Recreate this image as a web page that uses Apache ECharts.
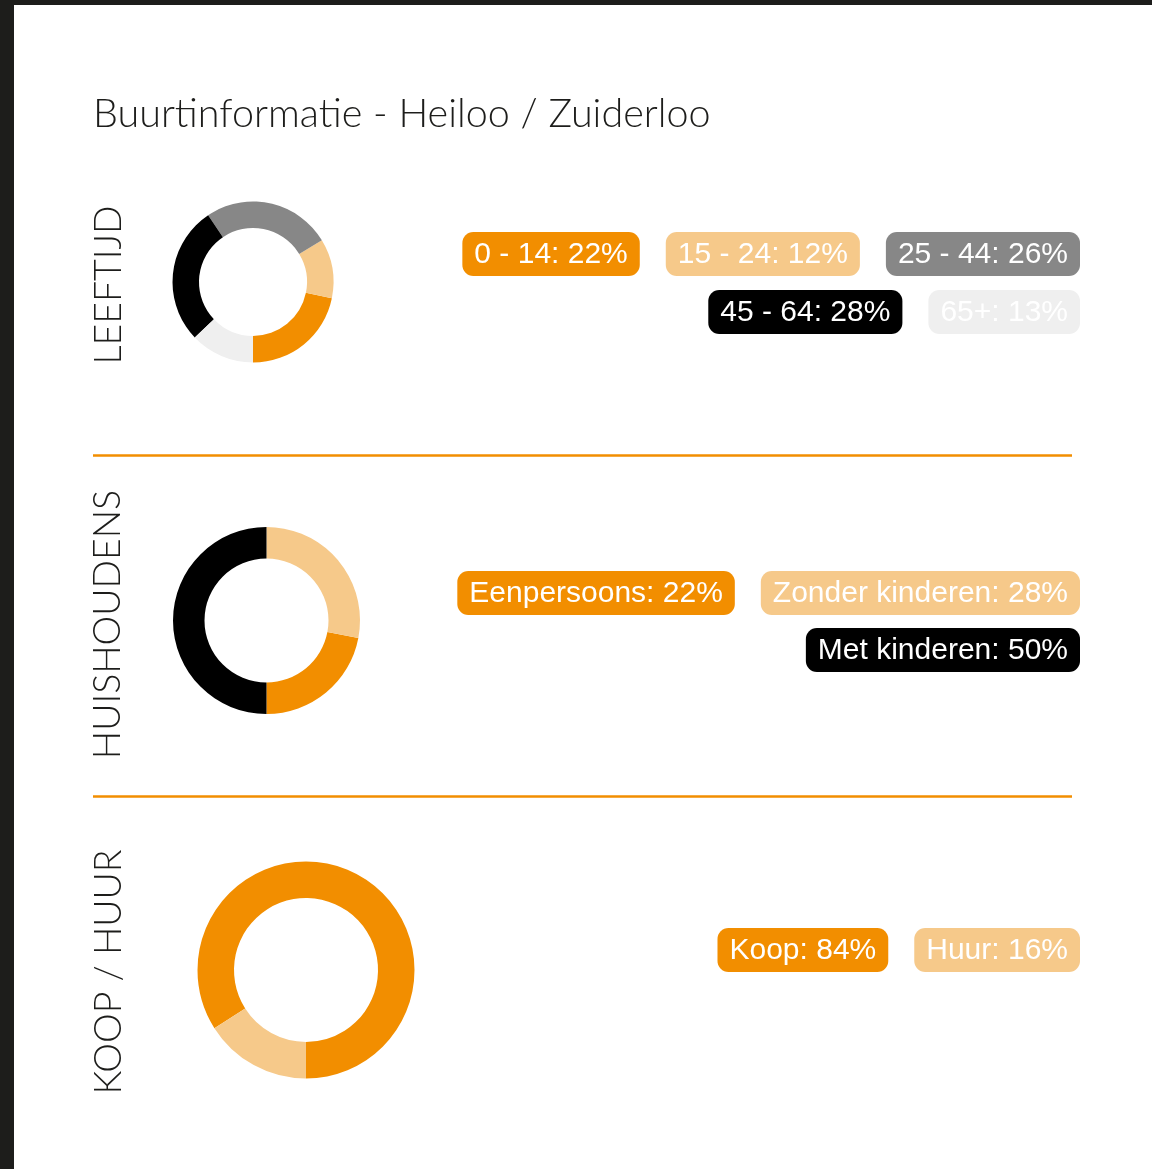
<!DOCTYPE html>
<html><head><meta charset="utf-8">
<script src="https://cdn.jsdelivr.net/npm/echarts@6/dist/echarts.min.js"></script>
<style>html,body{margin:0;padding:0;background:#fff}#c{width:1152px;height:1169px}</style>
</head><body><div id="c"></div>
<script>
// ---- data ----
const titleText = 'Buurtinformatie - Heiloo / Zuiderloo';
const sectionLabels = ['LEEFTIJD', 'HUISHOUDENS', 'KOOP / HUUR'];
const leeftijdCats = ['0 - 14', '15 - 24', '25 - 44', '45 - 64', '65+'];
const leeftijdVals = [22, 12, 26, 28, 13];
const huishoudCats = ['Eenpersoons', 'Zonder kinderen', 'Met kinderen'];
const huishoudVals = [22, 28, 50];
const koopCats = ['Koop', 'Huur'];
const koopVals = [84, 16];

// ---- styles ----
const C = {orange:'#F28E00', light:'#F6C98A', gray:'#878787', black:'#000000', pale:'#EFEFEF'};
const leeftijdColors = [C.orange, C.light, C.gray, C.black, C.pale];
const huishoudColors = [C.orange, C.light, C.black];
const koopColors = [C.orange, C.light];

const sections = [
  {cats:leeftijdCats, vals:leeftijdVals, colors:leeftijdColors, center:[253,282], r:[54,80.5], label:sectionLabels[0], labelX:109, labelY:285, rowTop:232, rowStep:58},
  {cats:huishoudCats, vals:huishoudVals, colors:huishoudColors, center:[266.5,620.5], r:[62,93.5], label:sectionLabels[1], labelX:107.5, labelY:624.5, rowTop:571, rowStep:57},
  {cats:koopCats, vals:koopVals, colors:koopColors, center:[306,970], r:[72,108.5], label:sectionLabels[2], labelX:109, labelY:972, rowTop:928, rowStep:57}
];

const pillFont = '30px "Liberation Sans", Arial, sans-serif';
const cv = document.createElement('canvas').getContext('2d');
cv.font = pillFont;
const padX = 12, pillH = 44, gap = 26, rightEdge = 1080, maxW = 634;

const graphics = [
  {type:'rect', shape:{x:0,y:0,width:1152,height:5}, style:{fill:'#1d1d1b'}, z:10},
  {type:'rect', shape:{x:0,y:0,width:14,height:1169}, style:{fill:'#1d1d1b'}, z:10},
  {type:'line', shape:{x1:93,y1:455.5,x2:1072,y2:455.5}, style:{stroke:C.orange, lineWidth:2.5}},
  {type:'line', shape:{x1:93,y1:796.5,x2:1072,y2:796.5}, style:{stroke:C.orange, lineWidth:2.5}}
];

sections.forEach(s => {
  graphics.push({type:'text', x:s.labelX, y:s.labelY, rotation:Math.PI/2,
    style:{text:s.label, font:'300 37.5px Lato, "Noto Sans", sans-serif', fill:'#1d1d1b', textAlign:'center', textVerticalAlign:'middle'}});
  // pills, flex-wrap right aligned
  const items = s.cats.map((c,i) => {
    const t = c + ': ' + s.vals[i] + '%';
    return {t, w: cv.measureText(t).width + 2*padX, color:s.colors[i]};
  });
  const rows = [[]]; let cur = 0;
  items.forEach(it => {
    const add = (rows[rows.length-1].length ? gap : 0) + it.w;
    if (cur + add > maxW && rows[rows.length-1].length) { rows.push([it]); cur = it.w; }
    else { rows[rows.length-1].push(it); cur += add; }
  });
  rows.forEach((row, ri) => {
    const total = row.reduce((a,b)=>a+b.w,0) + gap*(row.length-1);
    let x = rightEdge - total;
    const y = s.rowTop + ri*s.rowStep;
    row.forEach(it => {
      graphics.push({type:'rect', shape:{x, y, width:it.w, height:pillH, r:11}, style:{fill:it.color}});
      graphics.push({type:'text', x:x+it.w/2, y:y+pillH/2+1, style:{text:it.t, font:pillFont, fill:'#ffffff', textAlign:'center', textVerticalAlign:'middle'}});
      x += it.w + gap;
    });
  });
});

const chart = echarts.init(document.getElementById('c'), null, {renderer:'canvas'});
chart.setOption({
  backgroundColor:'#ffffff',
  animation:false,
  title:{text:titleText, left:93, top:94, padding:0, textStyle:{fontFamily:'Lato, "Noto Sans", sans-serif', fontWeight:300, fontSize:39.5, color:'#1d1d1b'}},
  series: sections.map(s => ({
    type:'pie', center:s.center, radius:s.r, startAngle:270, clockwise:false, silent:true,
    label:{show:false}, labelLine:{show:false},
    itemStyle:{borderWidth:0},
    data: s.cats.map((c,i)=>({name:c, value:s.vals[i], itemStyle:{color:s.colors[i]}}))
  })),
  graphic: graphics
});
</script></body></html>
